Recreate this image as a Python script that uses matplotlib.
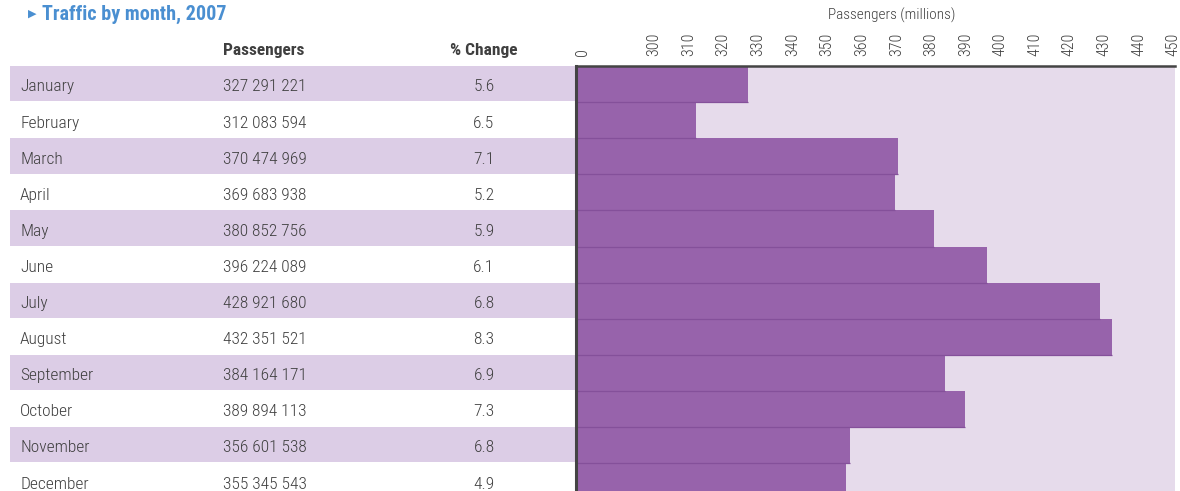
import matplotlib
matplotlib.use("Agg")
import matplotlib.pyplot as plt
from matplotlib import font_manager as fm

months = ["January", "February", "March", "April", "May", "June", "July",
          "August", "September", "October", "November", "December"]
passengers = [327291221, 312083594, 370474969, 369683938, 380852756, 396224089,
              428921680, 432351521, 384164171, 389894113, 356601538, 355345543]
pct_change = [5.6, 6.5, 7.1, 5.2, 5.9, 6.1, 6.8, 8.3, 6.9, 7.3, 6.8, 4.9]
tick_values = [300, 310, 320, 330, 340, 350, 360, 370, 380, 390, 400, 410, 420, 430, 440, 450]
break_label = "0"

names = {f.name for f in fm.fontManager.ttflist}
FONT = "DejaVu Sans"
for cand in ["Roboto Condensed", "IBM Plex Sans Condensed", "Archivo Narrow",
             "PT Sans Narrow", "Barlow Semi Condensed", "Liberation Sans Narrow"]:
    if cand in names:
        FONT = cand
        break
plt.rcParams["font.family"] = [FONT, "DejaVu Sans"]

W, H = 1180, 491
fig = plt.figure(figsize=(W / 100, H / 100), dpi=100)

def fx(px):
    return px / W

def fy(py):
    return 1 - py / H

TEXT = "#3f3f3f"
BAND = "#dccde6"
BG = "#e6dbeb"
BAR = "#9763ab"
EDGE = "#84509a"
LIGHT = 300

row_h = 36.1
top = 66
n = len(months)
bottom_px = top + n * row_h
dy = 0.08

# table axes
axt = fig.add_axes([0, fy(bottom_px), fx(576), (bottom_px - top) / H])
axt.set_xlim(0, 576)
axt.set_ylim(n - 0.5, -0.5)
axt.axis("off")
for i, (m, p, c) in enumerate(zip(months, passengers, pct_change)):
    if i % 2 == 0:
        axt.add_patch(plt.Rectangle((10, i - 0.5), 566, 0.98, color=BAND, lw=0))
    axt.text(20, i + dy, m, ha="left", va="center", fontsize=12.5, color=TEXT, fontweight=LIGHT)
    s = f"{p:,}".replace(",", " ")
    axt.text(265, i + dy, s, ha="center", va="center", fontsize=12.5, color=TEXT, fontweight=LIGHT)
    axt.text(484, i + dy, f"{c:.1f}", ha="center", va="center", fontsize=12.5, color=TEXT, fontweight=LIGHT)

fig.text(fx(264), fy(50), "Passengers", ha="center", va="center", fontsize=12.5,
         fontweight="bold", color=TEXT)
fig.text(fx(484), fy(50), "% Change", ha="center", va="center", fontsize=12.5,
         fontweight="bold", color=TEXT)
fig.text(fx(28), fy(14), "\u25B6", ha="left", va="center", fontsize=8,
         color="#4a8fd1", family="DejaVu Sans")
fig.text(fx(42), fy(14), "Traffic by month, 2007", ha="left", va="center", fontsize=14.5,
         fontweight="bold", color="#4a8fd1")

# bar axes
ax = fig.add_axes([fx(576), fy(bottom_px), fx(1175 - 576), (bottom_px - top) / H])
ax.set_facecolor(BG)
xmin, xmax = 277.5, 450.5
ax.set_xlim(xmin, xmax)
ax.set_ylim(n - 0.5, -0.5)
vals = [p / 1e6 for p in passengers]
ys = list(range(n))
ax.barh(ys, [v - xmin for v in vals], left=xmin, height=1.0, color=BAR, lw=0)
ax.hlines([y + 0.5 for y in ys], xmin, vals, color=EDGE, lw=0.9)
for s in ["right", "bottom"]:
    ax.spines[s].set_visible(False)
ax.spines["left"].set_linewidth(2.2)
ax.spines["left"].set_color("#444444")
ax.spines["top"].set_linewidth(1.8)
ax.spines["top"].set_color("#444444")
ax.set_yticks([])
ax.xaxis.tick_top()
ax.set_xticks([xmin + 2.0] + tick_values)
ax.set_xticklabels([break_label] + [str(t) for t in tick_values], rotation=90,
                   fontsize=11.5, color=TEXT, fontweight=LIGHT)
ax.tick_params(axis="x", length=0, pad=7)
fig.text(fx(892), fy(15), "Passengers (millions)", ha="center", va="center",
         fontsize=11, color=TEXT, fontweight=LIGHT)

fig.savefig("out.png", dpi=100)
